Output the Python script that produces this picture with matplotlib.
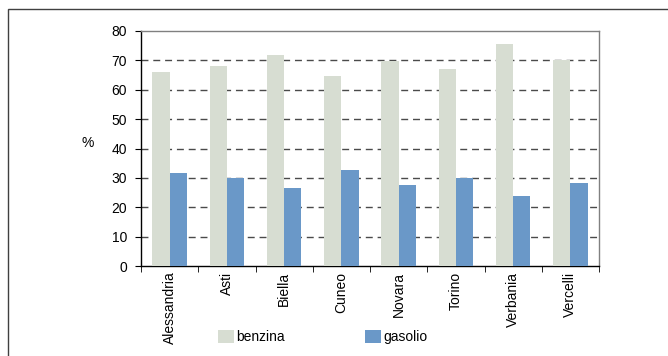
import matplotlib
matplotlib.use("Agg")
import matplotlib.pyplot as plt
import numpy as np
from matplotlib.patches import Rectangle

categories = ["Alessandria", "Asti", "Biella", "Cuneo", "Novara", "Torino", "Verbania", "Vercelli"]
benzina = [66.1, 68.1, 72.0, 64.8, 69.8, 67.1, 75.6, 70.2]
gasolio = [31.8, 29.8, 26.7, 32.8, 27.7, 30.1, 23.7, 28.4]
yticks = [0, 10, 20, 30, 40, 50, 60, 70, 80]

plt.rcParams['font.family'] = ['Liberation Sans', 'DejaVu Sans']
plt.rcParams['font.size'] = 10

W, H = 668, 356
fig = plt.figure(figsize=(W / 100, H / 100), dpi=100)
left, right, top, bottom = 141, 599, 31, 266
ax = fig.add_axes([left / W, 1 - bottom / H, (right - left) / W, (bottom - top) / H])

x = np.arange(len(categories))
bw = 0.3
b1 = ax.bar(x - bw / 2, benzina, bw, color="#D7DDD2", label="benzina", zorder=3)
b2 = ax.bar(x + bw / 2, gasolio, bw, color="#6A98C8", label="gasolio", zorder=3)

ax.set_xlim(-0.5, len(categories) - 0.5)
ax.set_ylim(0, 80)
ax.set_yticks(yticks)
ax.set_yticklabels([str(v) for v in yticks])
ax.set_xticks(x)
ax.set_xticklabels(categories, rotation=90)
ax.tick_params(axis='x', length=0, pad=4)
ax.set_xticks(np.arange(len(categories) + 1) - 0.5, minor=True)
ax.tick_params(axis='x', which='minor', length=4, direction='out', color='black')
ax.tick_params(axis='y', length=4, direction='out', pad=6)

for yv in yticks[1:-1]:
    ax.axhline(yv, color="#4a4a4a", linestyle=(0, (5, 3.5)), linewidth=1.0, zorder=1)

ax.spines['left'].set_color('black')
ax.spines['bottom'].set_color('black')
ax.spines['top'].set_color('#808080')
ax.spines['right'].set_color('#808080')
for s in ax.spines.values():
    s.set_linewidth(1.0)

fig.text(88 / W, 1 - 143 / H, "%", ha='center', va='center', fontsize=10)

fig.legend(handles=[b1, b2], labels=["benzina", "gasolio"], ncol=2, frameon=False,
           loc='center left', bbox_to_anchor=(207 / W, 1 - 337 / H),
           handlelength=1.15, handleheight=1.15, handletextpad=0.15,
           columnspacing=5.8, borderpad=0.3, fontsize=10)

# outer border
fig.patches.append(Rectangle((7.5 / W, -0.1), 1.2, 1 - 8.5 / H + 0.1, transform=fig.transFigure,
                             fill=False, edgecolor='#404040', linewidth=1.0))

fig.savefig("out.png", dpi=100)
